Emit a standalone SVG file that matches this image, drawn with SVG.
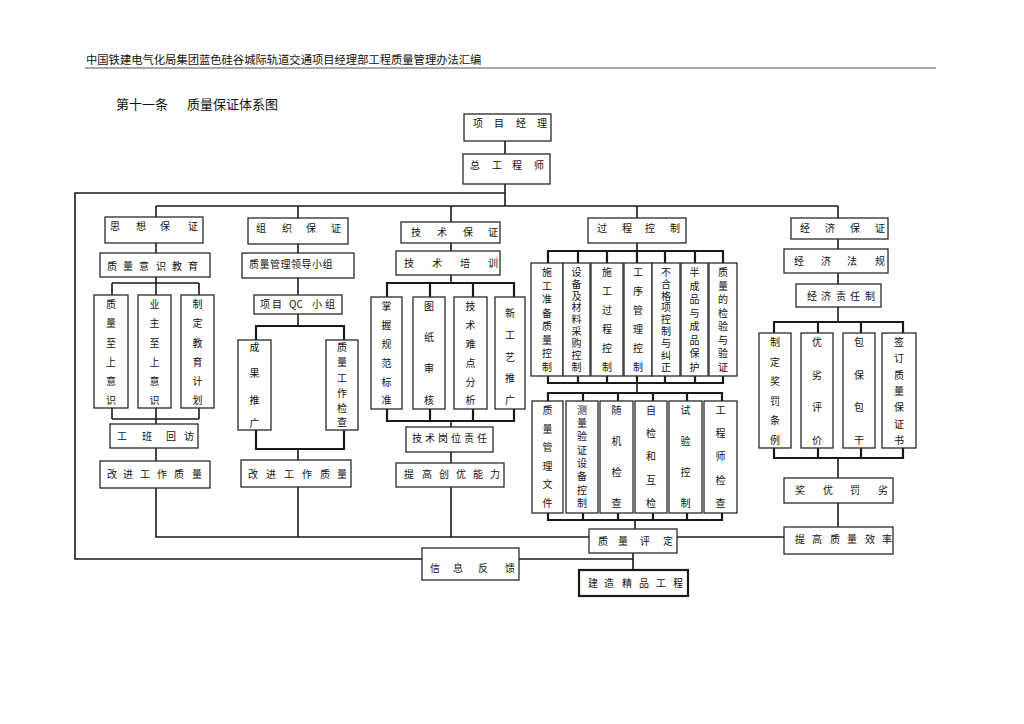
<svg xmlns="http://www.w3.org/2000/svg" width="1024" height="724" viewBox="0 0 1024 724">
<style>
.b{fill:#fff;stroke:#2a2a2a;stroke-width:1.3}
.bt{fill:#fff;stroke:#1a1a1a;stroke-width:2.2}
.c{fill:none;stroke:#1a1a1a;stroke-width:1.6}
.ct{fill:none;stroke:#1a1a1a;stroke-width:2.2}
text{font-family:"Noto Sans CJK SC","Noto Sans CJK TC",sans-serif;font-size:10px;fill:#111}
.m{text-anchor:middle}
.h{font-size:11.3px}
.t{font-size:13px}
</style>
<rect width="1024" height="724" fill="#fff"/>
<g id="header">
<text class="h" x="86" y="64">中国铁建电气化局集团蓝色硅谷城际轨道交通项目经理部工程质量管理办法汇编</text>
<line x1="85" y1="68" x2="936" y2="68" stroke="#555" stroke-width="1"/>
<text class="t" x="116" y="109">第十一条</text>
<text class="t" x="187" y="109">质量保证体系图</text>
</g>
<g id="connectors">
<path class="c" d="M505 141V154M505 184V206M505 193H75V559H422"/>
<path class="c" d="M156 206H838"/>
<path class="c" d="M156 206V217M156 243V253M156 277V283M112 283H199M112 283V295M156 283V295M199 283V295M112 408V419M156 408V419M199 408V419M112 419H199M156 419V424M156 448V461M156 488V537H589"/>
<path class="c" d="M298 206V218M298 244V253M298 278V295M298 314V326M298 449V460M298 487V537"/>
<path class="ct" d="M256 340V326H344V340M256 430V449H344V430"/>
<path class="c" d="M451 206V222M451 243V251M451 275V283M451 421V427M451 452V463M451 487V537"/>
<path class="ct" d="M387 297V283H514V297M430 283V297M473 283V297M387 409V421H514V409M430 409V421M473 409V421"/>
<path class="c" d="M637 206V218M637 243V251M637 383V393M635 520V529M633 553V570M519 559H633"/>
<path class="ct" d="M548 263V251H723V263M578 251V263M607 251V263M637 251V263M665 251V263M695 251V263M548 376V383H723V376M578 376V383M607 376V383M637 376V383M665 376V383M695 376V383"/>
<path class="ct" d="M548 401V393H722V401M583 393V401M618 393V401M653 393V401M687 393V401M548 513V520H722V513M583 513V520M618 513V520M653 513V520M687 513V520"/>
<path class="c" d="M677 537H784"/>
<path class="c" d="M838 206V218M838 239V249M838 273V284M838 307V322M838 458V478M838 503V527"/>
<path class="ct" d="M774 333V322H903V333M818 322V333M861 322V333M774 448V458H903V448M818 448V458M861 448V458"/>
</g>
<g id="n-xmjl"><rect class="b" x="464" y="114" width="87" height="27"/><text x="473 494 516 537" y="127">项目经理</text></g>
<g id="n-zgcs"><rect class="b" x="463" y="154" width="87" height="30"/><text x="470 492 512 534" y="169">总工程师</text></g>
<g id="n-sxbz"><rect class="b" x="105" y="217" width="98" height="26"/><text x="110 136 160 188" y="230">思想保证</text></g>
<g id="n-zlysjy"><rect class="b" x="100" y="253" width="110" height="24"/><text x="107 123 139 156 172 188" y="270">质量意识教育</text></g>
<g id="n-c1a"><rect class="b" x="94" y="295" width="34" height="113"/><text class="m" x="111 111 111 111 111 111" y="308 327 347 366 385 404">质量至上意识</text></g>
<g id="n-c1b"><rect class="b" x="138" y="295" width="33" height="113"/><text class="m" x="154.5 154.5 154.5 154.5 154.5 154.5" y="308 327 347 366 385 404">业主至上意识</text></g>
<g id="n-c1c"><rect class="b" x="181" y="295" width="33" height="113"/><text class="m" x="197.5 197.5 197.5 197.5 197.5 197.5" y="308 327 347 366 385 404">制定教育计划</text></g>
<g id="n-gbhf"><rect class="b" x="110" y="424" width="88" height="24"/><text x="117 142 166 184" y="440">工班回访</text></g>
<g id="n-gjgzzl1"><rect class="b" x="100" y="461" width="110" height="27"/><text x="107 123 140 157 174 192" y="478">改进工作质量</text></g>
<g id="n-zzbz"><rect class="b" x="248" y="218" width="100" height="26"/><text x="256 282 306 331" y="232">组织保证</text></g>
<g id="n-zlgl"><rect class="b" x="242" y="253" width="112" height="25"/><text x="249 259.5 270 280.5 291 301.5 312 322.5" y="268">质量管理领导小组</text></g>
<g id="n-qc"><rect class="b" x="254" y="295" width="88" height="19"/><text x="260 272" y="308">项目</text><text x="289" y="308">QC</text><text x="312 325" y="308">小组</text></g>
<g id="n-cgtg"><rect class="b" x="238" y="340" width="33" height="90"/><text class="m" x="254.5 254.5 254.5 254.5" y="351 377 404 427">成果推广</text></g>
<g id="n-zlgzjc"><rect class="b" x="326" y="340" width="32" height="90"/><text class="m" x="342 342 342 342 342 342" y="351 366 382 397 412 426">质量工作检查</text></g>
<g id="n-gjgzzl2"><rect class="b" x="241" y="460" width="110" height="27"/><text x="248 266 284 302 320 337" y="478">改进工作质量</text></g>
<g id="n-jsbz"><rect class="b" x="401" y="222" width="99" height="21"/><text x="411 437 463 488" y="236">技术保证</text></g>
<g id="n-jspx"><rect class="b" x="396" y="251" width="104" height="24"/><text x="404 432 460 488" y="267">技术培训</text></g>
<g id="n-c3a"><rect class="b" x="371" y="297" width="31" height="112"/><text class="m" x="386.5 386.5 386.5 386.5 386.5 386.5" y="310 329 348 367 386 404">掌握规范标准</text></g>
<g id="n-c3b"><rect class="b" x="413" y="297" width="32" height="112"/><text class="m" x="429 429 429 429" y="310 341 372 404">图纸审核</text></g>
<g id="n-c3c"><rect class="b" x="454" y="297" width="33" height="112"/><text class="m" x="470.5 470.5 470.5 470.5 470.5 470.5" y="310 329 348 367 386 404">技术难点分析</text></g>
<g id="n-c3d"><rect class="b" x="495" y="297" width="30" height="112"/><text class="m" x="510 510 510 510 510" y="317 339 361 382 404">新工艺推广</text></g>
<g id="n-jsgwzr"><rect class="b" x="406" y="427" width="87" height="25"/><text x="412 425 438 451 464 477" y="442">技术岗位责任</text></g>
<g id="n-tgcynl"><rect class="b" x="396" y="463" width="108" height="24"/><text x="404 422 439 456 473 490" y="478">提高创优能力</text></g>
<g id="n-gckz"><rect class="b" x="588" y="218" width="98" height="25"/><text x="597 622 645 670" y="232">过程控制</text></g>
<g id="n-p1"><rect class="b" x="531" y="263" width="32" height="113"/><text class="m" x="547 547 547 547 547 547 547 547" y="276 289.5 303 316.5 330 344 357 371">施工准备质量控制</text></g>
<g id="n-p2"><rect class="b" x="563" y="263" width="27" height="113"/><text class="m" x="576.5 576.5 576.5 576.5 576.5 576.5 576.5 576.5 576.5" y="276 288 300 311 323 335 347 359 371">设备及材料采购控制</text></g>
<g id="n-p3"><rect class="b" x="591" y="263" width="32" height="113"/><text class="m" x="607 607 607 607 607 607" y="276 295 314 333 352 371">施工过程控制</text></g>
<g id="n-p4"><rect class="b" x="624" y="263" width="28" height="113"/><text class="m" x="638 638 638 638 638 638" y="276 295 314 333 352 371">工序管理控制</text></g>
<g id="n-p5"><rect class="b" x="652" y="263" width="28" height="113"/><text class="m" x="666 666 666 666 666 666 666 666 666" y="276 288 300 311 323 335 347 359 371">不合格项控制与纠正</text></g>
<g id="n-p6"><rect class="b" x="681" y="263" width="27" height="113"/><text class="m" x="694.5 694.5 694.5 694.5 694.5 694.5 694.5 694.5" y="276 289.5 303 316.5 330 344 357 371">半成品与成品保护</text></g>
<g id="n-p7"><rect class="b" x="709" y="263" width="28" height="113"/><text class="m" x="723 723 723 723 723 723 723 723" y="276 289.5 303 316.5 330 344 357 371">质量的检验与验证</text></g>
<g id="n-q1"><rect class="b" x="532" y="401" width="31" height="112"/><text class="m" x="547.5 547.5 547.5 547.5 547.5 547.5" y="414 432.5 451 470 488 507">质量管理文件</text></g>
<g id="n-q2"><rect class="b" x="566" y="401" width="32" height="112"/><text class="m" x="582 582 582 582 582 582 582 582" y="414 427 440 454 467 480 493.5 507">测量验证设备控制</text></g>
<g id="n-q3"><rect class="b" x="600" y="401" width="33" height="112"/><text class="m" x="616.5 616.5 616.5 616.5" y="414 445 476 507">随机检查</text></g>
<g id="n-q4"><rect class="b" x="635" y="401" width="32" height="112"/><text class="m" x="651 651 651 651 651" y="414 437 460 484 507">自检和互检</text></g>
<g id="n-q5"><rect class="b" x="669" y="401" width="33" height="112"/><text class="m" x="685.5 685.5 685.5 685.5" y="414 445 476 507">试验控制</text></g>
<g id="n-q6"><rect class="b" x="704" y="401" width="33" height="112"/><text class="m" x="720.5 720.5 720.5 720.5 720.5" y="414 437 460 484 507">工程师检查</text></g>
<g id="n-zlpd"><rect class="b" x="589" y="529" width="88" height="24"/><text x="598 618 640 663" y="545">质量评定</text></g>
<g id="n-xxfk"><rect class="b" x="422" y="548" width="97" height="32"/><text x="430 453 478 505" y="572">信息反馈</text></g>
<g id="n-jzjpgc"><rect class="bt" x="579" y="570" width="109" height="26"/><text x="588 604 622 639 656 673" y="587">建造精品工程</text></g>
<g id="n-jjbz"><rect class="b" x="791" y="218" width="97" height="21"/><text x="800 825 850 875" y="232">经济保证</text></g>
<g id="n-jjfg"><rect class="b" x="784" y="249" width="104" height="24"/><text x="794 821 847 875" y="265">经济法规</text></g>
<g id="n-jjzrz"><rect class="b" x="796" y="284" width="85" height="23"/><text x="807 821 836 850 865" y="300">经济责任制</text></g>
<g id="n-e1"><rect class="b" x="759" y="333" width="32" height="115"/><text class="m" x="775 775 775 775 775 775" y="346 365.5 385 405 424 444">制定奖罚条例</text></g>
<g id="n-e2"><rect class="b" x="801" y="333" width="32" height="115"/><text class="m" x="817 817 817 817" y="346 378.5 411 444">优劣评价</text></g>
<g id="n-e3"><rect class="b" x="843" y="333" width="32" height="115"/><text class="m" x="859 859 859 859" y="346 378.5 411 444">包保包干</text></g>
<g id="n-e4"><rect class="b" x="882" y="333" width="34" height="115"/><text class="m" x="899 899 899 899 899 899 899" y="346 362 378.5 395 411 427.5 444">签订质量保证书</text></g>
<g id="n-jyfl"><rect class="b" x="784" y="478" width="109" height="25"/><text x="795 823 850 878" y="494">奖优罚劣</text></g>
<g id="n-tgzlxl"><rect class="b" x="784" y="527" width="109" height="27"/><text x="795 812 830 847 865 882" y="543">提高质量效率</text></g>
</svg>
